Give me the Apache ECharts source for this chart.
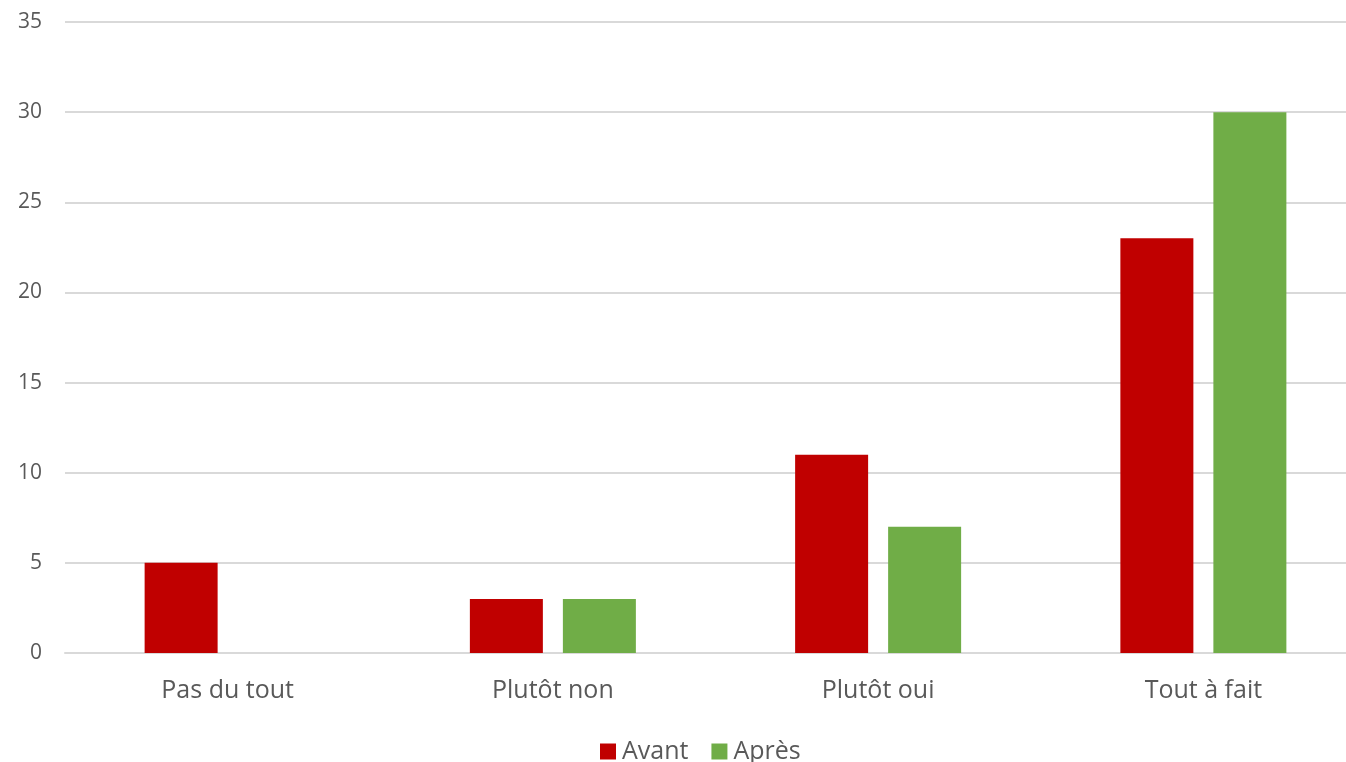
<!DOCTYPE html>
<html>
<head>
<meta charset="utf-8">
<script src="https://cdn.jsdelivr.net/npm/echarts@6/dist/echarts.min.js"></script>
<style>
html,body{margin:0;padding:0;background:#fff;}
#chart{width:1346px;height:762px;}
</style>
</head>
<body>
<div id="chart"></div>
<script>
const categories = ['Pas du tout', 'Plutôt non', 'Plutôt oui', 'Tout à fait'];
const avant = [5, 3, 11, 23];
const apres = [0, 3, 7, 30];
const yTicks = { min: 0, max: 35, interval: 5 };

const chart = echarts.init(document.getElementById('chart'));
const font = 'Open Sans';
chart.setOption({
  animation: false,
  backgroundColor: '#ffffff',
  textStyle: { fontFamily: font },
  grid: { left: 65, top: 22, right: -20, bottom: 109, outerBoundsMode: 'none', containLabel: false },
  legend: {
    left: 595, top: 734,
    itemWidth: 16, itemHeight: 16, itemGap: 23,
    icon: 'rect',
    textStyle: { fontFamily: font, fontSize: 25, color: '#595959', padding: [0, 0, 0, 1] },
    data: ['Avant', 'Après']
  },
  xAxis: {
    type: 'category',
    data: categories,
    axisLine: { show: true, lineStyle: { color: '#D9D9D9', width: 2 } },
    axisTick: { show: false },
    axisLabel: { fontFamily: font, fontSize: 25, color: '#595959', margin: 25 }
  },
  yAxis: {
    type: 'value',
    min: yTicks.min, max: yTicks.max, interval: yTicks.interval,
    axisLine: { show: false },
    axisTick: { show: false },
    splitLine: { lineStyle: { color: '#D9D9D9', width: 2 } },
    axisLabel: { fontFamily: font, fontSize: 21, color: '#595959', margin: 23 }
  },
  series: [
    { name: 'Avant', type: 'bar', data: avant, barWidth: 73, barGap: '27.4%',
      itemStyle: { color: '#C00000' } },
    { name: 'Après', type: 'bar', data: apres, barWidth: 73, barGap: '27.4%',
      itemStyle: { color: '#70AD47' } }
  ]
});
</script>
</body>
</html>
